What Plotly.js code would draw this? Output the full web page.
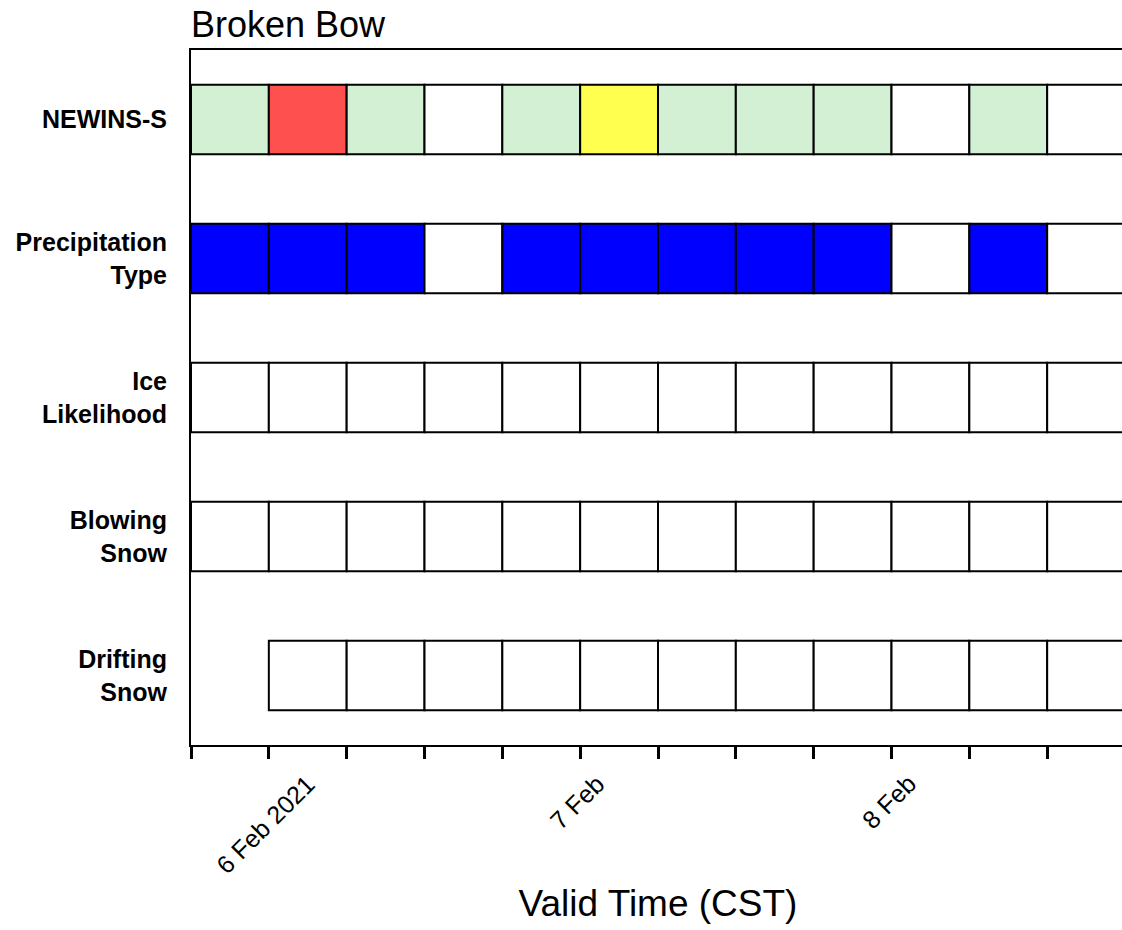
<!DOCTYPE html>
<html>
<head>
<meta charset="utf-8">
<script src="https://cdn.plot.ly/plotly-3.0.1.min.js"></script>
<style>
html,body{margin:0;padding:0;overflow:hidden;background:#fff;}
#chart{width:1125px;height:930px;}
</style>
</head>
<body>
<div id="chart"></div>
<script>
// ---- data ----
const rows = ["NEWINS-S", "Precipitation<br>Type", "Ice<br>Likelihood", "Blowing<br>Snow", "Drifting<br>Snow"];
const cellStarts = ["2021-02-05 18:00","2021-02-06 00:00","2021-02-06 06:00","2021-02-06 12:00",
  "2021-02-06 18:00","2021-02-07 00:00","2021-02-07 06:00","2021-02-07 12:00",
  "2021-02-07 18:00","2021-02-08 00:00","2021-02-08 06:00","2021-02-08 12:00"];
const cellHours = 6;
const newinsColors = ["#d4f0d4","#ff5050","#d4f0d4","#ffffff","#d4f0d4","#ffff50","#d4f0d4","#d4f0d4","#d4f0d4","#ffffff","#d4f0d4","#ffffff"];
const precipColors = ["#0000ff","#0000ff","#0000ff","#ffffff","#0000ff","#0000ff","#0000ff","#0000ff","#0000ff","#ffffff","#0000ff","#ffffff"];
const iceColors = ["#ffffff","#ffffff","#ffffff","#ffffff","#ffffff","#ffffff","#ffffff","#ffffff","#ffffff","#ffffff","#ffffff","#ffffff"];
const blowingColors = ["#ffffff","#ffffff","#ffffff","#ffffff","#ffffff","#ffffff","#ffffff","#ffffff","#ffffff","#ffffff","#ffffff","#ffffff"];
const driftingStarts = cellStarts.slice(1);
const driftingColors = ["#ffffff","#ffffff","#ffffff","#ffffff","#ffffff","#ffffff","#ffffff","#ffffff","#ffffff","#ffffff","#ffffff"];
const tickVals = cellStarts.concat(["2021-02-08 18:00"]);
const labelDates = ["2021-02-06 00:00","2021-02-07 00:00","2021-02-08 00:00"];
const labelTexts = ["6 Feb 2021","7 Feb","8 Feb"];
const xRange = ["2021-02-05 18:00","2021-02-08 18:00"];

const FONT = 'Liberation Sans, Arial, sans-serif';
const durMs = cellHours*3600*1000;
function rowTrace(name, starts, colors){
  return {
    type:'bar', orientation:'h',
    y: starts.map(()=>name),
    x: starts.map(()=>durMs),
    base: starts,
    width: 0.5,
    marker:{color:colors, line:{color:'#000', width:2}},
    hoverinfo:'skip', showlegend:false
  };
}
const data = [
  rowTrace(rows[0], cellStarts, newinsColors),
  rowTrace(rows[1], cellStarts, precipColors),
  rowTrace(rows[2], cellStarts, iceColors),
  rowTrace(rows[3], cellStarts, blowingColors),
  rowTrace(rows[4], driftingStarts, driftingColors)
];
const annotations = labelDates.map((d,i)=>({
  x:d, xref:'x', y:-0.031, yref:'paper', text:labelTexts[i], showarrow:false,
  textangle:-45, xanchor:'center', yanchor:'top', xshift:-3,
  font:{size:25, family:FONT, color:'#000'}
}));
const layout = {
  width:1125, height:930,
  margin:{l:191, r:0, t:50, b:185},
  paper_bgcolor:'#fff', plot_bgcolor:'#fff',
  barmode:'overlay',
  font:{family:FONT, color:'#000'},
  title:{text:'Broken Bow', x:191/1125, xref:'container', xanchor:'left', yref:'container', y:1-24/930, yanchor:'middle', font:{size:36, color:'#000'}},
  xaxis:{type:'date', range:xRange, tickvals:tickVals, showticklabels:false,
    ticks:'outside', ticklen:12, tickwidth:3, tickcolor:'#000',
    showline:true, linecolor:'#000', linewidth:2, mirror:true, showgrid:false, zeroline:false,
    automargin:false,
    title:{text:'Valid Time (CST)', font:{size:37}, standoff:132}},
  yaxis:{type:'category', categoryorder:'array', categoryarray:rows, autorange:false, range:[4.5,-0.5],
    showline:true, linecolor:'#000', linewidth:2, mirror:true, showgrid:false, zeroline:false,
    ticks:'', tickfont:{size:25, family:FONT, weight:'bold'}, ticklabelstandoff:17, automargin:false},
  annotations: annotations
};
Plotly.newPlot('chart', data, layout, {displayModeBar:false, staticPlot:true});
</script>
</body>
</html>
